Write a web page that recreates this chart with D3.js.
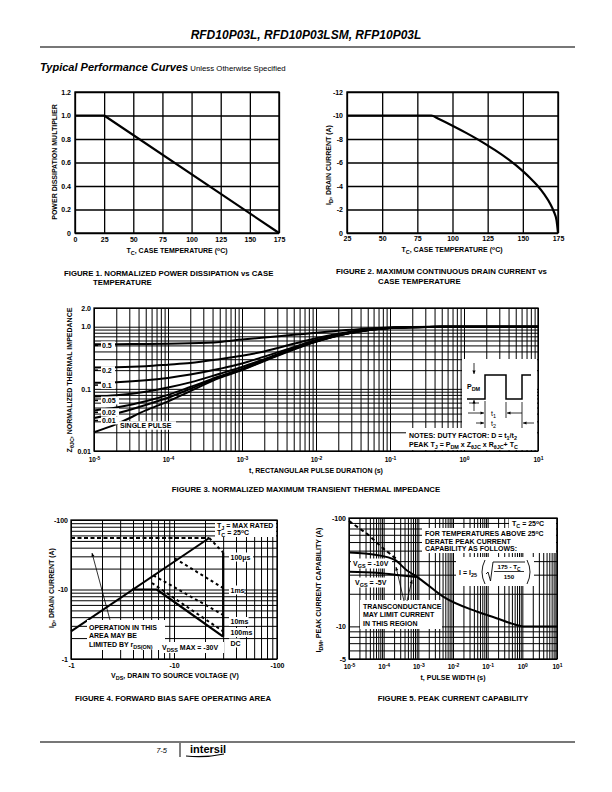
<!DOCTYPE html>
<html><head><meta charset="utf-8">
<script src="https://cdn.jsdelivr.net/npm/d3@7"></script>
<style>body{margin:0;background:#fff}svg{display:block}</style>
</head><body><svg id="c" width="612" height="792"></svg>
<script>
// ---------------- DATA ----------------
// Figure 1
const fig1Temp = [0, 25, 175];
const fig1Mult = [1.0, 1.0, 0];
const fig1XTicks = [0, 25, 50, 75, 100, 125, 150, 175];
const fig1YTicks = [0, 0.2, 0.4, 0.6, 0.8, 1.0, 1.2];
// Figure 2
const fig2Temp = [25, 85, 90, 100, 110, 120, 125, 130, 140, 150, 155, 160, 165, 170, 172, 174, 175];
const fig2Current = [-10, -10, -9.72, -9.13, -8.5, -7.82, -7.45, -7.07, -6.24, -5.27, -4.71, -4.08, -3.33, -2.36, -1.83, -1.05, 0];
const fig2XTicks = [25, 50, 75, 100, 125, 150, 175];
const fig2YTicks = [0, -2, -4, -6, -8, -10, -12];
// Figure 3
const fig3Time = [1e-5, 2e-5, 5e-5, 1e-4, 2e-4, 5e-4, 1e-3, 2e-3, 5e-3, 1e-2, 2e-2, 5e-2, 0.1, 0.2, 0.5, 1, 10];
const fig3Duty = ["0.5", "0.2", "0.1", "0.05", "0.02", "0.01", "SINGLE PULSE"];
const z05 = [0.52, 0.522, 0.527, 0.53, 0.54, 0.57, 0.62, 0.67, 0.74, 0.80, 0.86, 0.94, 0.975, 0.99, 1.0, 1.0, 1.0];
const z02 = [0.22, 0.223, 0.232, 0.245, 0.26, 0.30, 0.34, 0.40, 0.53, 0.65, 0.77, 0.90, 0.96, 0.985, 1.0, 1.0, 1.0];
const z01 = [0.125, 0.128, 0.137, 0.150, 0.17, 0.21, 0.255, 0.33, 0.47, 0.61, 0.745, 0.89, 0.955, 0.98, 1.0, 1.0, 1.0];
const z005 = [0.075, 0.079, 0.090, 0.105, 0.127, 0.175, 0.225, 0.30, 0.45, 0.59, 0.73, 0.885, 0.95, 0.98, 1.0, 1.0, 1.0];
const z002 = [0.045, 0.050, 0.063, 0.080, 0.107, 0.16, 0.21, 0.29, 0.44, 0.58, 0.73, 0.88, 0.95, 0.98, 1.0, 1.0, 1.0];
const z001 = [0.034, 0.040, 0.055, 0.072, 0.10, 0.155, 0.205, 0.285, 0.435, 0.575, 0.72, 0.88, 0.95, 0.98, 1.0, 1.0, 1.0];
const zSingle = [0.020, 0.027, 0.045, 0.063, 0.092, 0.15, 0.20, 0.28, 0.43, 0.57, 0.72, 0.88, 0.95, 0.98, 1.0, 1.0, 1.0];
const fig3DutyLabelY = [0.5, 0.2, 0.115, 0.065, 0.042, 0.031];
const fig3YTicks = [2.0, 1.0, 0.1, 0.01];
const fig3XTicks = [1e-5, 1e-4, 1e-3, 1e-2, 1e-1, 1, 10];
// Figure 4
const fig4RdsV = [-1, -22], fig4RdsI = [-2.5, -55];
const fig4LimV = [-1, -22], fig4LimI = [-55, -55];
const fig4P100usV = [-22, -30], fig4P100usI = [-55, -34];
const fig4P1msV = [-10.2, -30], fig4P1msI = [-28, -10.5];
const fig4P10msV = [-6.3, -30], fig4P10msI = [-16, -4.3];
const fig4P100msV = [-6.1, -30], fig4P100msI = [-12.4, -2.5];
const fig4DcV = [-3.9, -6.8, -30], fig4DcI = [-10, -10, -2.1];
const fig4VdssV = [-30, -30], fig4VdssI = [-34, -2.1];
const fig4Ticks = [-1, -10, -100];
// Figure 5
const fig5Vgs10T = [1e-5, 6.3e-5, 2.1e-4, 4.6e-4, 8.9e-4, 1.4e-3, 5.2e-3, 4.8e-2, 0.18, 0.5, 1.05, 10];
const fig5Vgs10I = [-48, -45.6, -41, -33, -28.8, -25.9, -18.8, -13.7, -11.9, -10.6, -10, -10];
const fig5Vgs5T = [1e-5, 6.3e-5, 2.4e-4, 8.9e-4];
const fig5Vgs5I = [-32, -31.3, -29.8, -28.6];
const fig5LimT = [1e-5, 3.6e-5, 8.7e-5, 1.9e-4, 2.6e-4];
const fig5LimI = [-94, -70, -54, -44, -41];
const fig5YTicks = [-100, -10, -5];
const fig5XTicks = [1e-5, 1e-4, 1e-3, 1e-2, 1e-1, 1, 10];

// ---------------- HELPERS ----------------
const F = '"Liberation Sans", Arial, Helvetica, sans-serif';
const FS = 7;      // general label size
const CAP = 7.8;   // caption size
const svg = d3.select('#c');
svg.append('rect').attr('width', 612).attr('height', 792).attr('fill', '#fff');

function txt(g, x, y, parts, o = {}) {
  const size = o.size || FS;
  const t = g.append('text').attr('x', x).attr('y', y)
    .attr('font-size', size).attr('font-weight', o.weight || 'bold')
    .attr('text-anchor', o.anchor || 'start').attr('font-family', F).attr('fill', '#000');
  if (o.italic) t.attr('font-style', 'italic');
  if (o.rotate) t.attr('transform', `rotate(-90,${x},${y})`);
  if (typeof parts === 'string') parts = [[parts]];
  parts.forEach(([s, m]) => {
    const ts = t.append('tspan').text(s);
    if (m === 'sub') ts.attr('baseline-shift', '-30%').attr('font-size', size * 0.78);
    else if (m === 'sup') ts.attr('baseline-shift', '45%').attr('font-size', size * 0.72);
  });
  return t;
}
function wbox(g, x, y, w, h) {
  g.append('rect').attr('x', x).attr('y', y).attr('width', w).attr('height', h).attr('fill', '#fff');
}
function logVals(lo, hi) {
  const out = [];
  for (let e = Math.floor(Math.log10(lo)); e <= Math.ceil(Math.log10(hi)); e++)
    for (let k = 1; k < 10; k++) { const v = k * Math.pow(10, e); if (v >= lo * 0.9999 && v <= hi * 1.0001) out.push(+v.toPrecision(3)); }
  return out;
}
function grid(g, x, y, xv, yv, sw) {
  const [x0, x1] = x.range(), [y0, y1] = y.range();
  g.append('g').attr('transform', `translate(0,${y0})`)
    .call(d3.axisBottom(x).tickValues(xv).tickSize(-(y0 - y1)).tickFormat(() => ''))
    .call(a => { a.select('.domain').remove(); a.selectAll('line').attr('stroke', '#000').attr('stroke-width', sw); });
  g.append('g').attr('transform', `translate(${x0},0)`)
    .call(d3.axisLeft(y).tickValues(yv).tickSize(-(x1 - x0)).tickFormat(() => ''))
    .call(a => { a.select('.domain').remove(); a.selectAll('line').attr('stroke', '#000').attr('stroke-width', sw); });
}
function frame(g, x, y, sw) {
  const [x0, x1] = x.range(), [y0, y1] = y.range();
  g.append('rect').attr('x', x0).attr('y', y1).attr('width', x1 - x0).attr('height', y0 - y1)
    .attr('fill', 'none').attr('stroke', '#000').attr('stroke-width', sw);
}
function styleLabels(a, size) {
  a.select('.domain').remove();
  a.selectAll('line').remove();
  a.selectAll('text').attr('font-family', F).attr('font-size', size || FS).attr('font-weight', 'bold').attr('fill', '#000');
}
function leftLabels(g, x, y, vals, fmt, pad) {
  g.append('g').attr('transform', `translate(${x.range()[0]},0)`)
    .call(d3.axisLeft(y).tickValues(vals).tickSize(0).tickPadding(pad || 3).tickFormat(fmt))
    .call(a => styleLabels(a));
}
function bottomLabels(g, x, y, vals, fmt, pad) {
  g.append('g').attr('transform', `translate(0,${y.range()[0]})`)
    .call(d3.axisBottom(x).tickValues(vals).tickSize(0).tickPadding(pad || 4).tickFormat(fmt))
    .call(a => styleLabels(a));
}
function powLabels(g, x, y, vals, pad) {
  g.append('g').attr('transform', `translate(0,${y.range()[0]})`)
    .call(d3.axisBottom(x).tickValues(vals).tickSize(0).tickPadding(pad || 4).tickFormat(() => ''))
    .call(a => {
      styleLabels(a, 6.5);
      a.selectAll('text').each(function (d) {
        const t = d3.select(this);
        t.append('tspan').text('10');
        t.append('tspan').attr('baseline-shift', '45%').attr('font-size', 5).text(String(Math.round(Math.log10(d))));
      });
    });
}
function path(g, xs, ys, x, y, o = {}) {
  const pts = xs.map((v, i) => [v, ys[i]]);
  const line = d3.line().x(d => x(d[0])).y(d => y(d[1])).curve(o.curve || d3.curveLinear);
  g.append('path').attr('d', line(pts)).attr('fill', 'none').attr('stroke', '#000')
    .attr('stroke-width', o.w || 2).attr('stroke-dasharray', o.dash || null)
    .attr('stroke-linejoin', 'round');
}
function arrow(g, x1, y1, x2, y2, sw) {
  g.append('line').attr('x1', x1).attr('y1', y1).attr('x2', x2).attr('y2', y2).attr('stroke', '#000').attr('stroke-width', sw || 0.8);
  const a = Math.atan2(y2 - y1, x2 - x1), L = 3.5, W = 1.6;
  const p1 = [x2 - L * Math.cos(a) + W * Math.sin(a), y2 - L * Math.sin(a) - W * Math.cos(a)];
  const p2 = [x2 - L * Math.cos(a) - W * Math.sin(a), y2 - L * Math.sin(a) + W * Math.cos(a)];
  g.append('path').attr('d', `M${x2},${y2}L${p1[0]},${p1[1]}L${p2[0]},${p2[1]}Z`).attr('fill', '#000');
}

// ---------------- HEADER ----------------
txt(svg, 306, 39, 'RFD10P03L, RFD10P03LSM, RFP10P03L', { size: 12, italic: true, anchor: 'middle' });
svg.append('line').attr('x1', 40).attr('x2', 575).attr('y1', 47).attr('y2', 47).attr('stroke', '#777').attr('stroke-width', 2);
const sub = txt(svg, 40, 71, 'Typical Performance Curves', { size: 11, italic: true });
sub.append('tspan').attr('font-size', 7.8).attr('font-weight', 'normal').attr('font-style', 'normal').text(' Unless Otherwise Specified');

// ---------------- FIGURE 1 ----------------
{
  const g = svg.append('g');
  const x = d3.scaleLinear().domain([0, 175]).range([75, 279]);
  const y = d3.scaleLinear().domain([0, 1.2]).range([233, 92]);
  grid(g, x, y, fig1XTicks, fig1YTicks, 1.3);
  frame(g, x, y, 1.4);
  path(g, fig1Temp, fig1Mult, x, y, { w: 2.2 });
  leftLabels(g, x, y, fig1YTicks, d => d === 0 ? '0' : d.toFixed(1), 4);
  bottomLabels(g, x, y, fig1XTicks, d => String(d), 4);
  txt(g, 177, 253, [['T'], ['C', 'sub'], [', CASE TEMPERATURE ('], ['o', 'sup'], ['C)']], { anchor: 'middle' });
  txt(g, 57, 162, 'POWER DISSIPATION MULTIPLIER', { anchor: 'middle', rotate: true });
  txt(g, 64, 276, 'FIGURE 1.  NORMALIZED POWER DISSIPATION vs CASE', { size: CAP });
  txt(g, 93, 285, 'TEMPERATURE', { size: CAP });
}

// ---------------- FIGURE 2 ----------------
{
  const g = svg.append('g');
  const x = d3.scaleLinear().domain([25, 175]).range([347, 558]);
  const y = d3.scaleLinear().domain([0, -12]).range([233, 92]);
  grid(g, x, y, fig2XTicks, fig2YTicks, 1.3);
  frame(g, x, y, 1.4);
  path(g, fig2Temp, fig2Current, x, y, { w: 2.2, curve: d3.curveMonotoneX });
  leftLabels(g, x, y, fig2YTicks, d => String(d), 4);
  bottomLabels(g, x, y, fig2XTicks, d => String(d), 3);
  txt(g, 452, 252, [['T'], ['C', 'sub'], [', CASE TEMPERATURE ('], ['o', 'sup'], ['C)']], { anchor: 'middle' });
  txt(g, 331, 165, [['I'], ['D', 'sub'], [', DRAIN CURRENT (A)']], { anchor: 'middle', rotate: true });
  txt(g, 336, 274, 'FIGURE 2.  MAXIMUM CONTINUOUS DRAIN CURRENT vs', { size: CAP });
  txt(g, 378, 284, 'CASE TEMPERATURE', { size: CAP });
}

// ---------------- FIGURE 3 ----------------
{
  const g = svg.append('g');
  const x = d3.scaleLog().domain([1e-5, 10]).range([94, 538]);
  const y = d3.scaleLog().domain([0.01, 2]).range([451, 308]);
  grid(g, x, y, logVals(1e-5, 10), logVals(0.01, 2), 1);
  frame(g, x, y, 1.3);
  const series = [z05, z02, z01, z005, z002, z001, zSingle];
  series.forEach(s => path(g, fig3Time, s, x, y, { w: 2, curve: d3.curveMonotoneX }));
  // duty labels
  fig3DutyLabelY.forEach((v, i) => {
    const yy = y(v);
    const w = fig3Duty[i].length * 4 + 2;
    wbox(g, 101, yy - 4, w, 8);
    g.append('line').attr('x1', 94).attr('x2', 98).attr('y1', yy).attr('y2', yy).attr('stroke', '#000').attr('stroke-width', 1.5);
    txt(g, 102, yy + 2.5, fig3Duty[i]);
  });
  wbox(g, 118, y(0.0255) - 4.5, 58, 8.5);
  txt(g, 120, y(0.0255) + 2.5, fig3Duty[6]);
  leftLabels(g, x, y, fig3YTicks, d => d >= 1 ? d.toFixed(1) : String(d), 3);
  powLabels(g, x, y, fig3XTicks, 6);
  // inset: pulse diagram
  wbox(g, 462, 359, 75, 69);
  wbox(g, 406, 428, 131, 22);
  g.append('path').attr('d', 'M467,399L485,399L485,375L506,375L506,399L522,399L522,375L531,375')
    .attr('fill', 'none').attr('stroke', '#000').attr('stroke-width', 1.5);
  txt(g, 467, 389, [['P'], ['DM', 'sub']]);
  arrow(g, 474, 363, 474, 374, 0.8);
  arrow(g, 474, 411, 474, 400, 0.8);
  g.append('line').attr('x1', 469).attr('x2', 479).attr('y1', 403).attr('y2', 403).attr('stroke', '#000').attr('stroke-width', 0.8);
  [[485, 401, 428], [506, 402, 418], [522, 402, 428]].forEach(([xx, a, b]) =>
    g.append('line').attr('x1', xx).attr('x2', xx).attr('y1', a).attr('y2', b).attr('stroke', '#000').attr('stroke-width', 0.8));
  arrow(g, 468, 413, 484, 413, 0.8);
  arrow(g, 522, 413, 507, 413, 0.8);
  arrow(g, 476, 423, 484, 423, 0.8);
  arrow(g, 534, 423, 523, 423, 0.8);
  txt(g, 491, 416, [['t'], ['1', 'sub']], { weight: 'normal' });
  txt(g, 491, 426, [['t'], ['2', 'sub']], { weight: 'normal' });
  txt(g, 409, 437.5, [['NOTES: DUTY FACTOR: D = t'], ['1', 'sub'], ['/t'], ['2', 'sub']]);
  txt(g, 409, 447, [['PEAK T'], ['J', 'sub'], [' = P'], ['DM', 'sub'], [' x Z'], ['θJC', 'sub'], [' x R'], ['θJC', 'sub'], ['+ T'], ['C', 'sub']]);
  txt(g, 72, 380, [['Z'], ['θJC', 'sub'], [', NORMALIZED THERMAL IMPEDANCE']], { anchor: 'middle', rotate: true });
  txt(g, 316, 473, 't, RECTANGULAR PULSE DURATION (s)', { anchor: 'middle' });
  txt(g, 306, 492, 'FIGURE 3.  NORMALIZED MAXIMUM TRANSIENT THERMAL IMPEDANCE', { size: CAP, anchor: 'middle' });
}

// ---------------- FIGURE 4 ----------------
{
  const g = svg.append('g');
  const x = d3.scaleLog().domain([-1, -100]).range([71, 277]);
  const y = d3.scaleLog().domain([-1, -100]).range([659, 520]);
  const gv = logVals(1, 100).map(v => -v);
  grid(g, x, y, gv, gv, 1);
  frame(g, x, y, 1.3);
  path(g, fig4LimV, fig4LimI, x, y, { w: 2, dash: '4,2.5' });
  path(g, fig4P100usV, fig4P100usI, x, y, { w: 2, dash: '3,3' });
  path(g, fig4P1msV, fig4P1msI, x, y, { w: 2, dash: '3,3' });
  path(g, fig4P10msV, fig4P10msI, x, y, { w: 2, dash: '3,3' });
  path(g, fig4P100msV, fig4P100msI, x, y, { w: 2, dash: '3,3' });
  path(g, fig4RdsV, fig4RdsI, x, y, { w: 2 });
  path(g, fig4DcV, fig4DcI, x, y, { w: 2.2 });
  path(g, fig4VdssV, fig4VdssI, x, y, { w: 2.2 });
  // label boxes
  wbox(g, 215, 521, 61, 16);
  txt(g, 217, 527.5, [['T'], ['J', 'sub'], [' = MAX RATED']]);
  txt(g, 217, 535, [['T'], ['C', 'sub'], [' = 25'], ['o', 'sup'], ['C']]);
  [['100μs', 557], ['1ms', 590], ['10ms', 621.5], ['100ms', 632.5], ['DC', 643]].forEach(([s, yy], i) => {
    const w = s.length * 4.4 + 2;
    wbox(g, 229, yy - 4.5, w, 9);
    txt(g, 230.5, yy + 2.5, s);
  });
  wbox(g, 87, 620, 78, 30);
  txt(g, 89, 629.5, 'OPERATION IN THIS');
  txt(g, 89, 638, 'AREA MAY BE');
  txt(g, 89, 647, [['LIMITED BY r'], ['DS(ON)', 'sub']]);
  arrow(g, 110, 620, 92, 553, 0.8);
  wbox(g, 160, 642, 64, 11);
  txt(g, 162, 650, [['V'], ['DSS', 'sub'], [' MAX = -30V']]);
  leftLabels(g, x, y, fig4Ticks, d => String(d), 3);
  bottomLabels(g, x, y, fig4Ticks, d => String(d), 4);
  txt(g, 54, 588, [['I'], ['D', 'sub'], [', DRAIN CURRENT (A)']], { anchor: 'middle', rotate: true });
  txt(g, 175, 678, [['V'], ['DS', 'sub'], [', DRAIN TO SOURCE VOLTAGE (V)']], { anchor: 'middle' });
  txt(g, 173, 701, 'FIGURE 4.  FORWARD BIAS SAFE OPERATING AREA', { size: CAP, anchor: 'middle' });
}

// ---------------- FIGURE 5 ----------------
{
  const g = svg.append('g');
  const x = d3.scaleLog().domain([1e-5, 10]).range([349, 557]);
  const y = d3.scaleLog().domain([-5, -100]).range([659, 518]);
  grid(g, x, y, logVals(1e-5, 10), logVals(5, 100).map(v => -v), 1);
  frame(g, x, y, 1.3);
  // boxes behind text
  wbox(g, 509, 519, 47, 9);
  wbox(g, 422, 528, 134, 25);
  wbox(g, 456, 557, 78, 29);
  wbox(g, 351, 558.5, 41, 10);
  wbox(g, 353, 577.5, 38, 10);
  wbox(g, 360, 600, 82, 29);
  path(g, fig5LimT, fig5LimI, x, y, { w: 2, dash: '4,3' });
  path(g, fig5Vgs5T, fig5Vgs5I, x, y, { w: 2, curve: d3.curveMonotoneX });
  path(g, fig5Vgs10T, fig5Vgs10I, x, y, { w: 2, curve: d3.curveMonotoneX });
  txt(g, 512, 526, [['T'], ['C', 'sub'], [' = 25'], ['o', 'sup'], ['C']]);
  txt(g, 425, 536, [['FOR TEMPERATURES ABOVE 25'], ['o', 'sup'], ['C']]);
  txt(g, 425, 543.5, 'DERATE PEAK CURRENT');
  txt(g, 425, 551, 'CAPABILITY AS FOLLOWS:');
  // formula
  txt(g, 459, 575, [['I  =  I'], ['25', 'sub']]);
  g.append('path').attr('d', 'M485,560Q479,572 485,584').attr('fill', 'none').attr('stroke', '#000').attr('stroke-width', 0.9);
  g.append('path').attr('d', 'M527,560Q533,572 527,584').attr('fill', 'none').attr('stroke', '#000').attr('stroke-width', 0.9);
  g.append('path').attr('d', 'M486,574L488,572L490.5,581L493,562L525,562').attr('fill', 'none').attr('stroke', '#000').attr('stroke-width', 0.9);
  g.append('line').attr('x1', 494).attr('x2', 524).attr('y1', 571.5).attr('y2', 571.5).attr('stroke', '#000').attr('stroke-width', 0.8);
  txt(g, 509, 569, [['175 - T'], ['C', 'sub']], { anchor: 'middle', size: 6.2 });
  txt(g, 509, 579, '150', { anchor: 'middle', size: 6.2 });
  txt(g, 353, 566, [['V'], ['GS', 'sub'], [' = -10V']]);
  txt(g, 355, 585, [['V'], ['GS', 'sub'], [' = -5V']]);
  txt(g, 363, 609, 'TRANSCONDUCTANCE');
  txt(g, 363, 617, 'MAY LIMIT CURRENT');
  txt(g, 363, 625.5, 'IN THIS REGION');
  arrow(g, 404, 601, 396, 567, 0.8);
  arrow(g, 407, 601, 412, 580, 0.8);
  leftLabels(g, x, y, fig5YTicks, d => String(d), 3);
  powLabels(g, x, y, fig5XTicks, 5);
  txt(g, 321, 590, [['I'], ['DM', 'sub'], [', PEAK CURRENT CAPABILITY (A)']], { anchor: 'middle', rotate: true });
  txt(g, 453, 680, 't, PULSE WIDTH (s)', { anchor: 'middle' });
  txt(g, 453, 701, 'FIGURE 5.  PEAK CURRENT CAPABILITY', { size: CAP, anchor: 'middle' });
}

// ---------------- FOOTER ----------------
svg.append('line').attr('x1', 40).attr('x2', 575).attr('y1', 742).attr('y2', 742).attr('stroke', '#777').attr('stroke-width', 2);
svg.append('line').attr('x1', 180).attr('x2', 180).attr('y1', 743).attr('y2', 757).attr('stroke', '#000').attr('stroke-width', 1);
txt(svg, 167, 753, '7-5', { size: 7.5, weight: 'normal', italic: true, anchor: 'end' });
txt(svg, 190, 753, 'intersil', { size: 11 });
svg.append('path').attr('d', 'M186,756Q205,758 224,754').attr('fill', 'none').attr('stroke', '#000').attr('stroke-width', 1.2);
</script></body></html>
